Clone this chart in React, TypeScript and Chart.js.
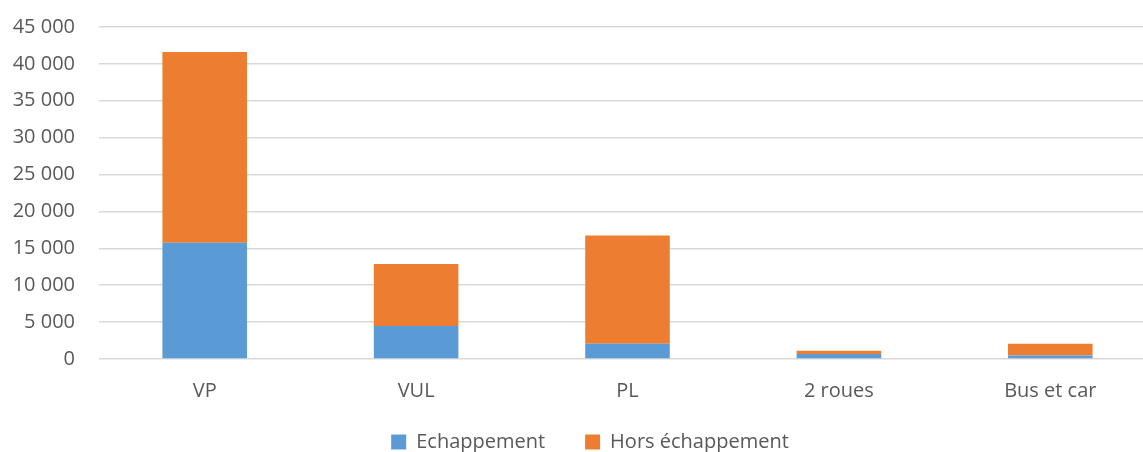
import React, { useEffect, useRef } from "react";
import { Chart, registerables } from "chart.js";

Chart.register(...registerables);

const categories = ["VP", "VUL", "PL", "2 roues", "Bus et car"];
const echappement = [15740, 4480, 2080, 680, 490];
const horsEchappement = [25860, 8410, 14650, 450, 1590];
const yTicks = [0, 5000, 10000, 15000, 20000, 25000, 30000, 35000, 40000, 45000];

const FONT = "'Open Sans', 'Noto Sans', sans-serif";
const TEXT = "#595959";

function fmt(v: number): string {
  return String(Math.round(v)).replace(/\B(?=(\d{3})+(?!\d))/g, " ");
}

const legendShift = {
  id: "legendShift",
  afterLayout(chart: any) {
    const lg = chart.legend;
    if (lg) {
      lg.left += 12;
      lg.right += 12;
      lg.top -= 31;
      lg.bottom -= 31;
    }
  },
};

export default function App() {
  const ref = useRef<HTMLCanvasElement | null>(null);
  useEffect(() => {
    if (!ref.current) return;
    const chart = new Chart(ref.current, {
      type: "bar",
      data: {
        labels: categories,
        datasets: [
          {
            label: "Echappement",
            data: echappement,
            backgroundColor: "#5B9BD5",
            borderWidth: 0,
            categoryPercentage: 1,
            barPercentage: 0.4,
          },
          {
            label: "Hors échappement",
            data: horsEchappement,
            backgroundColor: "#ED7D31",
            borderWidth: 0,
            categoryPercentage: 1,
            barPercentage: 0.4,
          },
        ],
      },
      plugins: [legendShift],
      options: {
        animation: false,
        responsive: true,
        maintainAspectRatio: false,
        layout: { padding: { top: 27, left: 0, right: 4, bottom: -41 } },
        plugins: {
          legend: {
            position: "bottom",
            labels: {
              font: { family: FONT, size: 20 },
              color: TEXT,
              boxWidth: 15,
              boxHeight: 15,
              padding: 40,
            },
          },
          tooltip: { enabled: false },
        },
        scales: {
          x: {
            stacked: true,
            grid: { display: false, drawTicks: false },
            border: { display: false },
            ticks: {
              font: { family: FONT, size: 20 },
              color: TEXT,
              padding: 20,
            },
          },
          y: {
            stacked: true,
            min: 0,
            max: 45000,
            afterBuildTicks: (scale: any) => {
              scale.ticks = yTicks.map((v) => ({ value: v }));
            },
            afterFit: (scale: any) => {
              scale.width = 99;
              scale.paddingTop = 0;
              scale.paddingBottom = 0;
            },
            grid: { color: "#D9D9D9", lineWidth: 1.5, drawTicks: false },
            border: { display: false },
            ticks: {
              font: { family: FONT, size: 20 },
              color: TEXT,
              padding: 24,
              callback: (v: any) => fmt(Number(v)),
            },
          },
        },
      },
    });
    return () => chart.destroy();
  }, []);
  return (
    <div
      style={{
        position: "fixed",
        left: 0,
        top: 0,
        width: 1143,
        height: 452,
        overflow: "hidden",
        background: "#fff",
      }}
    >
      <div style={{ position: "relative", width: 1160, height: 452 }}>
        <canvas ref={ref} />
      </div>
    </div>
  );
}
